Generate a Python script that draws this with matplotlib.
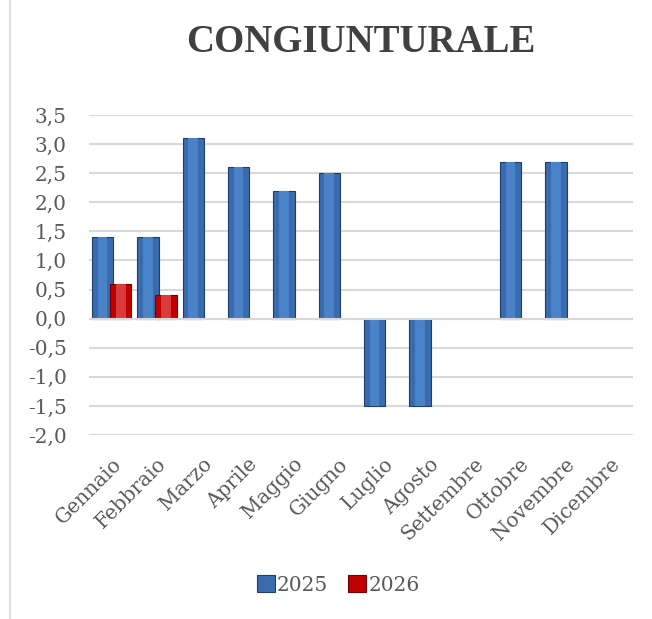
import matplotlib
matplotlib.use("Agg")
import matplotlib.pyplot as plt
from matplotlib.lines import Line2D
from matplotlib.ticker import FuncFormatter
import numpy as np

months = ["Gennaio", "Febbraio", "Marzo", "Aprile", "Maggio", "Giugno",
          "Luglio", "Agosto", "Settembre", "Ottobre", "Novembre", "Dicembre"]
v2025 = [1.4, 1.4, 3.1, 2.6, 2.2, 2.5, -1.5, -1.5, np.nan, 2.7, 2.7, np.nan]
v2026 = [0.6, 0.4, np.nan, np.nan, np.nan, np.nan, np.nan, np.nan, np.nan, np.nan, np.nan, np.nan]
yticks = [-2.0, -1.5, -1.0, -0.5, 0.0, 0.5, 1.0, 1.5, 2.0, 2.5, 3.0, 3.5]

serif = ["DejaVu Serif"]
title_font = ["Liberation Serif", "DejaVu Serif"]
gray = "#595959"

fig = plt.figure(figsize=(6.52, 6.19), dpi=100)
ax = fig.add_axes([89/652, 1-435/619, (633-89)/652, (435-115)/619])

x = np.arange(len(months))
off, w = 0.2, 0.47

ax.bar(x - off, v2025, w, color="#3A6BAE", edgecolor="#1F3E6B", linewidth=0.8, zorder=3, label="2025")
ax.bar(x - off, v2025, w*0.45, color="#4A82C8", linewidth=0, zorder=4)
ax.bar(x + off, v2026, w, color="#C00000", edgecolor="#6E0000", linewidth=0.8, zorder=3, label="2026")
ax.bar(x + off, v2026, w*0.45, color="#D93B3B", linewidth=0, zorder=4)

ax.axhline(0, color="#D9D9D9", lw=1.5, zorder=5)

ax.set_xlim(-0.5, len(months) - 0.5)
ax.set_ylim(-2.0, 3.5)
ax.set_yticks(yticks)
ax.yaxis.set_major_formatter(FuncFormatter(lambda v, p: f"{v:.1f}".replace(".", ",")))
ax.grid(axis="y", color="#D9D9D9", lw=1.5, zorder=0)
ax.set_axisbelow(True)
for s in ax.spines.values():
    s.set_visible(False)
ax.tick_params(axis="both", length=0, colors=gray, labelsize=14.5)
ax.tick_params(axis="y", pad=16)
ax.set_xticks(x)
ax.set_xticklabels(months, rotation=45, ha="right", rotation_mode="anchor", family=serif, color=gray)
for t in ax.get_yticklabels():
    t.set_family(serif)
ax.tick_params(axis="x", pad=14)

fig.text(361/652, 1-42/619, "CONGIUNTURALE", ha="center", va="center",
         fontsize=28, fontweight="bold", family=title_font, color="#404040")

leg = fig.legend(loc="center", bbox_to_anchor=(338/652, 1-585/619), ncol=2, frameon=False,
                 prop={"family": serif, "size": 14.5}, handlelength=0.9, handleheight=0.9,
                 handletextpad=0.1, columnspacing=1.0)
for t in leg.get_texts():
    t.set_color(gray)

fig.add_artist(Line2D([10/652, 10/652], [0, 1], color="#D9D9D9", lw=1.2))

fig.savefig("out.png", dpi=100)
